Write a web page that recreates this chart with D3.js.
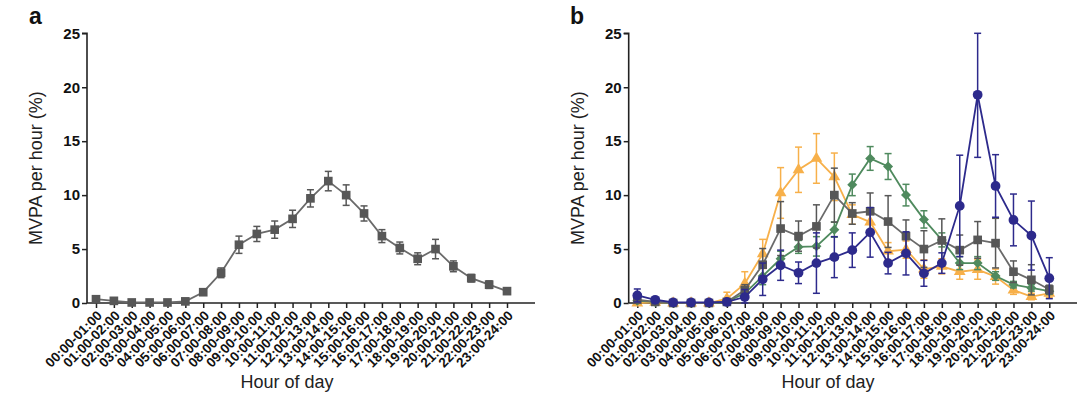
<!DOCTYPE html>
<html><head><meta charset="utf-8">
<script src="https://cdn.jsdelivr.net/npm/d3@7"></script>
<style>
html,body{margin:0;padding:0;background:#fff;}
svg{display:block;font-family:"Liberation Sans",Arial,sans-serif;}
</style></head>
<body>
<svg id="c" width="1080" height="397"></svg>
<script>
const hours = ["00:00-01:00","01:00-02:00","02:00-03:00","03:00-04:00","04:00-05:00","05:00-06:00","06:00-07:00","07:00-08:00","08:00-09:00","09:00-10:00","10:00-11:00","11:00-12:00","12:00-13:00","13:00-14:00","14:00-15:00","15:00-16:00","16:00-17:00","17:00-18:00","18:00-19:00","19:00-20:00","20:00-21:00","21:00-22:00","22:00-23:00","23:00-24:00"];
const yTicks = [0,5,10,15,20,25];

// Panel a: overall
const allMean = [0.35,0.2,0.05,0.05,0.05,0.15,1.0,2.8,5.4,6.4,6.8,7.8,9.7,11.3,10.0,8.3,6.2,5.1,4.1,5.0,3.4,2.3,1.7,1.1];
const allErr  = [0.15,0.1,0.05,0.05,0.05,0.1,0.15,0.45,0.8,0.7,0.8,0.8,0.8,0.9,0.95,0.7,0.6,0.55,0.55,0.9,0.5,0.35,0.35,0.2];

// Panel b: groups
const grayMean = [0.3,0.1,0.0,0.0,0.0,0.1,1.2,3.55,6.9,6.2,7.1,10.0,8.3,8.5,7.55,6.2,5.0,5.8,4.9,5.85,5.55,2.9,2.15,1.25];
const grayErr  = [0.2,0.1,0.05,0.05,0.05,0.1,0.5,1.5,2.5,1.4,2.0,2.5,1.0,1.7,2.4,1.5,1.7,2.0,1.4,1.7,2.3,1.0,1.4,0.4];
const orangeMean = [0.0,0.05,0.0,0.0,0.0,0.4,1.8,4.55,10.2,12.35,13.4,11.7,8.2,7.5,4.8,4.95,3.15,3.4,2.9,3.1,2.45,1.2,0.6,0.9];
const orangeErr  = [0.1,0.05,0.05,0.05,0.1,0.6,1.1,1.35,2.35,2.1,2.3,2.2,0.9,1.0,0.8,0.8,0.85,0.7,0.7,0.9,0.7,0.4,0.3,0.4];
const greenMean = [0.2,0.1,0.0,0.0,0.0,0.1,0.9,2.5,4.1,5.2,5.25,6.8,10.95,13.4,12.65,10.0,7.75,5.85,3.7,3.7,2.5,1.7,1.4,1.1];
const greenErr  = [0.2,0.1,0.05,0.05,0.05,0.1,0.4,0.8,0.7,0.6,0.9,0.7,1.0,1.1,1.2,1.0,0.8,0.65,0.6,0.6,0.4,0.3,0.3,0.3];
const blueMean = [0.7,0.3,0.05,0.05,0.05,0.1,0.55,2.2,3.5,2.8,3.7,4.25,4.9,6.55,3.7,4.6,2.75,3.7,9.0,19.3,10.85,7.7,6.25,2.3];
const blueErr  = [0.6,0.2,0.05,0.05,0.05,0.1,0.7,1.5,1.4,1.0,2.8,1.9,1.6,2.3,1.0,2.0,1.2,0.95,4.7,5.8,2.9,2.4,3.2,1.9];

const svg = d3.select("#c");
const yScale = d3.scaleLinear().domain([0,25]).range([303,33.3]);

function panel(opt){
  const g = svg.append("g");
  const x = d3.scalePoint().domain(hours).range([opt.x0, opt.x1]);
  // y axis
  const ya = g.append("g").attr("transform",`translate(${opt.ax},0)`)
    .call(d3.axisLeft(yScale).tickValues(yTicks).tickSize(5).tickPadding(2));
  ya.select(".domain").attr("stroke","#222").attr("stroke-width",1.6).attr("d",`M-5,${yScale(25)}H0V${yScale(0)}`);
  ya.selectAll(".tick line").attr("stroke","#222").attr("stroke-width",1.5);
  ya.selectAll(".tick text").attr("font-size",15).attr("font-weight","bold").attr("fill","#111")
    .attr("font-family","'Liberation Sans',Arial,sans-serif");
  // x axis
  const xa = g.append("g").attr("transform",`translate(0,${yScale(0)})`)
    .call(d3.axisBottom(x).tickSize(5).tickPadding(3));
  xa.select(".domain").attr("stroke","#222").attr("stroke-width",1.6).attr("d",`M${opt.ax},0H${opt.axEnd}`);
  xa.selectAll(".tick line").attr("stroke","#222").attr("stroke-width",1.5);
  xa.selectAll(".tick text").attr("font-size",13.5).attr("font-weight","bold").attr("fill","#111")
    .attr("font-family","'Liberation Sans',Arial,sans-serif")
    .attr("text-anchor","end").attr("dy","0.35em")
    .attr("transform","translate(3,10) rotate(-45)").attr("y",0).attr("x",0);
  // axis titles
  g.append("text").attr("transform",`translate(${opt.ax-51},${(yScale(0)+yScale(25))/2}) rotate(-90)`)
    .attr("text-anchor","middle").attr("dy","0.35em").attr("font-size",18).attr("fill","#222").text("MVPA per hour (%)");
  g.append("text").attr("x",opt.xt).attr("y",388).attr("text-anchor","middle")
    .attr("font-size",18).attr("fill","#222").text("Hour of day");
  g.append("text").attr("x",opt.lx).attr("y",24).attr("font-size",23).attr("font-weight","bold").attr("fill","#111").text(opt.letter);

  opt.series.forEach(s=>{
    const sg = g.append("g");
    const pts = hours.map((h,i)=>({h, m:s.mean[i], e:s.err[i]}));
    sg.append("path").datum(pts).attr("fill","none").attr("stroke",s.line).attr("stroke-width",1.8)
      .attr("d", d3.line().x(d=>x(d.h)).y(d=>yScale(d.m)));
    const eb = sg.selectAll(".eb").data(pts).join("g").attr("stroke",s.color).attr("stroke-width",1.5);
    eb.append("line").attr("x1",d=>x(d.h)).attr("x2",d=>x(d.h))
      .attr("y1",d=>yScale(Math.min(25,d.m+d.e))).attr("y2",d=>yScale(Math.max(0,d.m-d.e)));
    eb.append("line").attr("x1",d=>x(d.h)-3.5).attr("x2",d=>x(d.h)+3.5)
      .attr("y1",d=>yScale(Math.min(25,d.m+d.e))).attr("y2",d=>yScale(Math.min(25,d.m+d.e)));
    eb.append("line").attr("x1",d=>x(d.h)-3.5).attr("x2",d=>x(d.h)+3.5)
      .attr("y1",d=>yScale(Math.max(0,d.m-d.e))).attr("y2",d=>yScale(Math.max(0,d.m-d.e)));
    sg.selectAll(".mk").data(pts).join("path")
      .attr("d", d3.symbol().type(s.sym).size(s.size))
      .attr("transform", d=>`translate(${x(d.h)},${yScale(d.m)})${s.rot?" rotate(45)":""}`)
      .attr("fill", s.color);
  });
}

panel({ax:87, axEnd:535, x0:96, x1:507, xt:287, lx:29, letter:"a",
  series:[{mean:allMean, err:allErr, color:"#575757", line:"#6a6a6a", sym:d3.symbolSquare, size:75}]});

panel({ax:628.7, axEnd:1077, x0:637.3, x1:1049.3, xt:828, lx:570, letter:"b",
  series:[
    {mean:orangeMean, err:orangeErr, color:"#f7b04a", line:"#f7b04a", sym:d3.symbolTriangle, size:60},
    {mean:greenMean, err:greenErr, color:"#4f8a5e", line:"#4f8a5e", sym:d3.symbolSquare, size:50, rot:true},
    {mean:grayMean, err:grayErr, color:"#575757", line:"#6a6a6a", sym:d3.symbolSquare, size:75},
    {mean:blueMean, err:blueErr, color:"#2d2a8c", line:"#2d2a8c", sym:d3.symbolCircle, size:75}
  ]});
</script>
</body></html>
